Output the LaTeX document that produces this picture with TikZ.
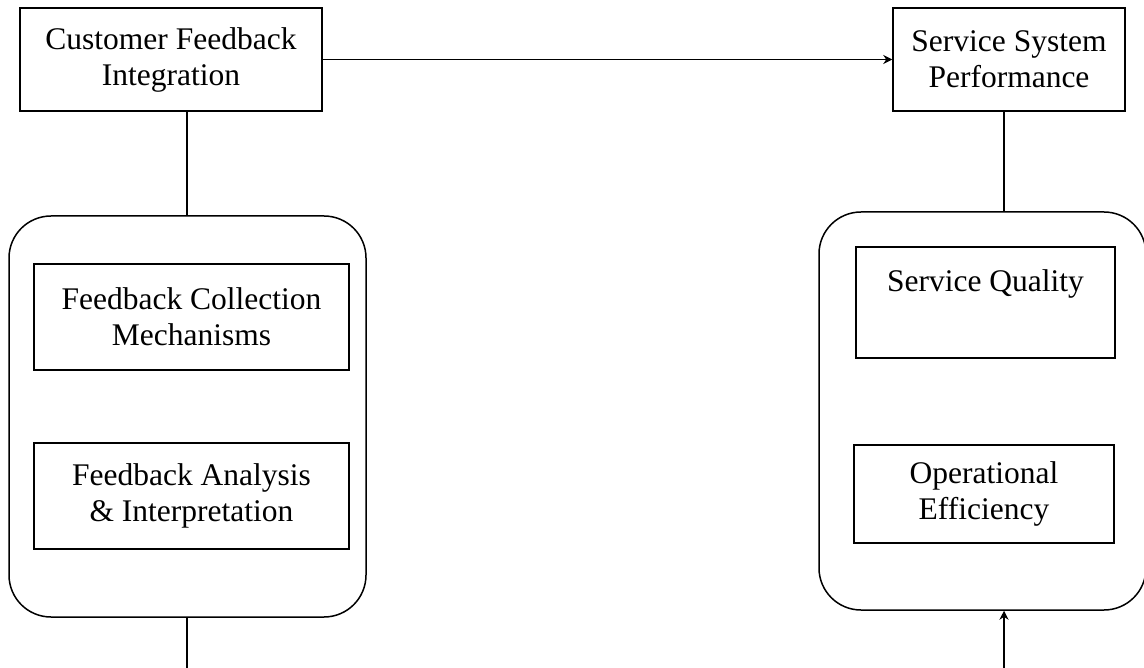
\documentclass[tikz,border=0pt]{standalone}
\usepackage{fontspec}
\setmainfont{Liberation Serif}
\usetikzlibrary{arrows.meta}
\begin{document}
\begin{tikzpicture}[x=1pt,y=-1pt,
  every node/.style={font=\fontsize{31.5}{36}\selectfont, align=center, inner sep=0pt},
  sqbox/.style={draw, line width=1.5pt, rectangle},
  roundbox/.style={draw, line width=1.5pt, rectangle, rounded corners=42pt},
  conn/.style={line width=1.6pt},
  arr/.style={line width=1.4pt, -{Stealth[length=9pt,width=9pt]}}]
\useasboundingbox (0,0) rectangle (1144,668);
% top boxes
\node[sqbox, minimum width=302pt, minimum height=103pt] (cfi) at (171,59.5) {Customer Feedback\\Integration};
\node[sqbox, minimum width=232pt, minimum height=103pt] (ssp) at (1009,59.5) {Service System\\Performance};
% containers
\node[roundbox, minimum width=357pt, minimum height=401pt] (lc) at (187.5,416.5) {};
\node[roundbox, minimum width=327pt, minimum height=398pt] (rc) at (982.5,411) {};
% inner boxes
\node[sqbox, minimum width=315pt, minimum height=106pt] (fcm) at (191.5,317) {Feedback Collection\\Mechanisms};
\node[sqbox, minimum width=315pt, minimum height=106pt] (fai) at (191.5,496) {Feedback Analysis\\\& Interpretation};
\node[sqbox, minimum width=259pt, minimum height=111pt] (sq) at (985.5,302.5) {};
\node[anchor=base] (sqt) at (985.5,292) {Service Quality};
\node[sqbox, minimum width=260pt, minimum height=98pt] (oe) at (984,494) {Operational\\Efficiency};
% free ends
\coordinate (lb) at (187,668);
\coordinate (rb) at (1004,668);
% connectors
\draw[arr] (cfi.east) -- (ssp.west);
\draw[conn] (cfi.south -| 187,0) -- (lc.north -| 187,0);
\draw[conn] (ssp.south -| 1004,0) -- (rc.north -| 1004,0);
\draw[conn] (lc.south -| lb) -- (lb);
\draw[arr] (rb) -- (rc.south -| rb);
\end{tikzpicture}
\end{document}
